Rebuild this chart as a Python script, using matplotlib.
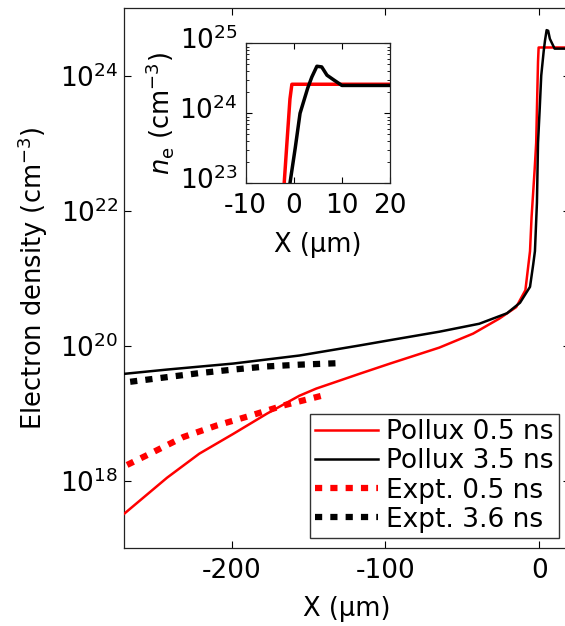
import matplotlib
matplotlib.use('Agg')
import matplotlib.pyplot as plt
import matplotlib.transforms as mtrans
from matplotlib.ticker import NullLocator, LogLocator, NullFormatter
from matplotlib.lines import Line2D

plt.rcParams['font.family'] = ['DejaVu Sans']
plt.rcParams['axes.unicode_minus'] = False
plt.rcParams['mathtext.fontset'] = 'dejavusans'

# ---- data (X in micrometres, electron density in cm^-3) ----
x_pollux05 = [-270, -242, -221, -199, -177, -156, -145, -134, -117, -97, -65, -43, -26,
              -15, -9, -6, -5, -3, -2, -1.5, -0.8, -0.4, 20]
n_pollux05 = [3.2e17, 1.1e18, 2.5e18, 4.9e18, 9.8e18, 1.8e19, 2.3e19, 2.8e19, 3.8e19,
              5.4e19, 9.3e19, 1.5e20, 2.5e20, 3.7e20, 6.6e20, 2.5e21, 7.9e21, 4.0e22,
              1.0e23, 3.2e23, 1.6e24, 2.6e24, 2.6e24]

x_pollux35 = [-270, -242, -199, -156, -117, -97, -65, -39, -21, -12.5, -6, -3.9, -2.8,
              -1.5, -0.8, 0.3, 1.3, 2.9, 3.75, 4.8, 5.8, 6.9, 8.3, 10, 20]
n_pollux35 = [3.8e19, 4.4e19, 5.4e19, 7.1e19, 1.0e20, 1.2e20, 1.6e20, 2.1e20, 3.0e20,
              4.3e20, 7.4e20, 1.6e21, 2.5e21, 1.3e22, 1.0e23, 3.2e23, 1.0e24, 2.3e24,
              3.3e24, 4.7e24, 4.6e24, 3.5e24, 3.0e24, 2.5e24, 2.5e24]

x_expt05 = [-268, -253, -231.5, -210, -188, -166, -141.5]
n_expt05 = [1.7e18, 2.5e18, 4.4e18, 6.5e18, 9.1e18, 1.3e19, 1.8e19]

x_expt36 = [-266, -242, -221, -199, -177, -156, -128]
n_expt36 = [2.9e19, 3.4e19, 3.9e19, 4.4e19, 4.9e19, 5.2e19, 5.5e19]

labels = ['Pollux 0.5 ns', 'Pollux 3.5 ns', 'Expt. 0.5 ns', 'Expt. 3.6 ns']
main_xticks = [-200, -100, 0]
main_yticks = [1e18, 1e20, 1e22, 1e24]
inset_xticks = [-10, 0, 10, 20]
inset_yticks = [1e23, 1e24, 1e25]

W, H = 565, 626
fig = plt.figure(figsize=(W / 100, H / 100), dpi=100)
fig.patch.set_facecolor('white')

FS = 19
LFS = 18.5
dot = (0, (1.15, 1.3))

# ---- main axes ----
ax = fig.add_axes([124 / W, 1 - 548 / H, 446 / W, 540 / H])
ax.plot(x_expt05, n_expt05, color='red', lw=4.5, linestyle=dot, dash_capstyle='butt', zorder=2)
ax.plot(x_expt36, n_expt36, color='black', lw=4.5, linestyle=dot, dash_capstyle='butt', zorder=2)
ax.plot(x_pollux05, n_pollux05, color='red', lw=1.8, zorder=3)
ax.plot(x_pollux35, n_pollux35, color='black', lw=1.8, zorder=4)

ax.set_yscale('log')
ax.set_xlim(-270, 20)
ax.set_ylim(1e17, 1e25)
ax.set_xticks(main_xticks)
ax.set_yticks(main_yticks)
ax.yaxis.set_minor_locator(NullLocator())
ax.tick_params(which='both', direction='in', top=True, right=True, length=5,
               width=0.8, labelsize=FS)
ax.tick_params(axis='x', pad=7)
ax.tick_params(axis='y', pad=4)
for s in ax.spines.values():
    s.set_linewidth(0.9)
    s.set_color('#222222')
ax.set_xlabel('X (μm)', fontsize=LFS, labelpad=9)
ax.set_ylabel('Electron density (cm$^{-3}$)', fontsize=LFS)
ax.yaxis.set_label_coords(-0.165, 0.5)

handles = [
    Line2D([], [], color='red', lw=1.8),
    Line2D([], [], color='black', lw=1.8),
    Line2D([], [], color='red', lw=4.5, linestyle=dot, dash_capstyle='butt'),
    Line2D([], [], color='black', lw=4.5, linestyle=dot, dash_capstyle='butt'),
]
leg = ax.legend(handles, labels, loc='lower right',
                bbox_to_anchor=(559 / W, 1 - 538 / H), bbox_transform=fig.transFigure,
                fontsize=FS, frameon=True, fancybox=False, edgecolor='#333333',
                framealpha=1, borderpad=0.2, labelspacing=0.12, handlelength=2.4,
                handletextpad=0.3, borderaxespad=0)
leg.get_frame().set_linewidth(1.0)

# ---- inset ----
axi = fig.add_axes([245.7 / W, 1 - 183.3 / H, 144.3 / W, 140 / H])
axi.plot(x_pollux05, n_pollux05, color='red', lw=2.5, zorder=3)
axi.plot(x_pollux35, n_pollux35, color='black', lw=2.5, zorder=4)
axi.set_yscale('log')
axi.set_xlim(-10, 20)
axi.set_ylim(1e23, 1e25)
axi.set_xticks(inset_xticks)
axi.set_yticks(inset_yticks)
axi.yaxis.set_minor_locator(LogLocator(base=10, subs=range(2, 10)))
axi.yaxis.set_minor_formatter(NullFormatter())
axi.tick_params(which='major', direction='in', top=True, right=True, length=4,
                width=0.8, labelsize=FS)
axi.tick_params(which='minor', direction='in', top=True, right=True, length=2, width=0.6)
axi.tick_params(axis='x', pad=7)
axi.tick_params(axis='y', pad=6)
for s in axi.spines.values():
    s.set_linewidth(0.9)
    s.set_color('#222222')
axi.set_xlabel('X (μm)', fontsize=LFS, labelpad=9)
axi.set_ylabel('$n_\\mathrm{e}$ (cm$^{-3}$)', fontsize=LFS, labelpad=2)

# lift the inset's y tick labels a little, as in the reference
off = mtrans.ScaledTranslation(0, 6 / 100, fig.dpi_scale_trans)
for tick in axi.yaxis.get_major_ticks():
    tick.label1.set_transform(tick.label1.get_transform() + off)

fig.savefig('out.png', dpi=100, facecolor='white')
